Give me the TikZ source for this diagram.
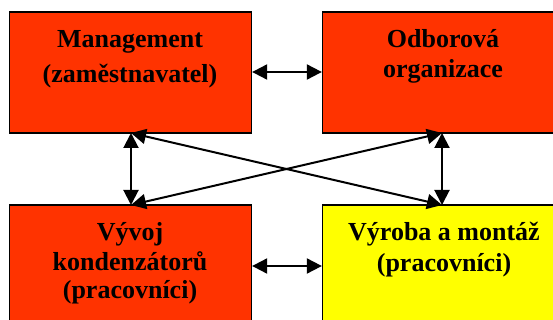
\documentclass[tikz,border=0pt]{standalone}
\usepackage{fontspec}
\setmainfont{Liberation Serif}
\usetikzlibrary{arrows.meta}
\definecolor{boxred}{RGB}{255,51,0}
\definecolor{boxyellow}{RGB}{255,255,0}
\tikzset{
  box/.style={draw=black, line width=1.3pt, rectangle, minimum width=242pt, inner sep=0pt},
  lbl/.style={font=\bfseries\fontsize{26}{30}\selectfont, anchor=base, inner sep=0pt},
  link/.style={line width=2pt, {Triangle[length=15pt,width=15pt]}-{Triangle[length=15pt,width=15pt]}}
}
\begin{document}
\begin{tikzpicture}[x=1pt,y=-1pt]
\useasboundingbox (0,0) rectangle (553,320);
\clip (0,0) rectangle (553,320);
% boxes
\node[box, fill=boxred, minimum height=121pt] (mgmt) at (130.5,72.5) {};
\node[box, fill=boxred, minimum height=121pt] (odb) at (443.5,72.5) {};
\node[box, fill=boxred, minimum height=121pt] (vyv) at (130.5,265.5) {};
\node[box, fill=boxyellow, minimum height=121pt] (vyr) at (443.5,265.5) {};
% texts
\node[lbl] (t1a) at (130,48) {Management};
\node[lbl] (t1b) at (130,83) {(zaměstnavatel)};
\node[lbl] (t2a) at (443,48) {Odborová};
\node[lbl] (t2b) at (443,78) {organizace};
\node[lbl] (t3a) at (130,240) {Vývoj};
\node[lbl] (t3b) at (130,270) {kondenzátorů};
\node[lbl] (t3c) at (130,298) {(pracovníci)};
\node[lbl] (t4a) at (444,240) {Výroba a montáž};
\node[lbl] (t4b) at (444,271) {(pracovníci)};
% connection points
\coordinate (mB) at (131,133);
\coordinate (oB) at (442,133);
\coordinate (vT) at (131,205);
\coordinate (rT) at (442,205);
% connectors
\draw[link] (mgmt.east |- 0,72) -- (odb.west |- 0,72);
\draw[link] (vyv.east |- 0,266) -- (vyr.west |- 0,266);
\draw[link] (mB) -- (vT);
\draw[link] (oB) -- (rT);
\draw[link] (mB) -- (rT);
\draw[link] (oB) -- (vT);
\end{tikzpicture}
\end{document}
